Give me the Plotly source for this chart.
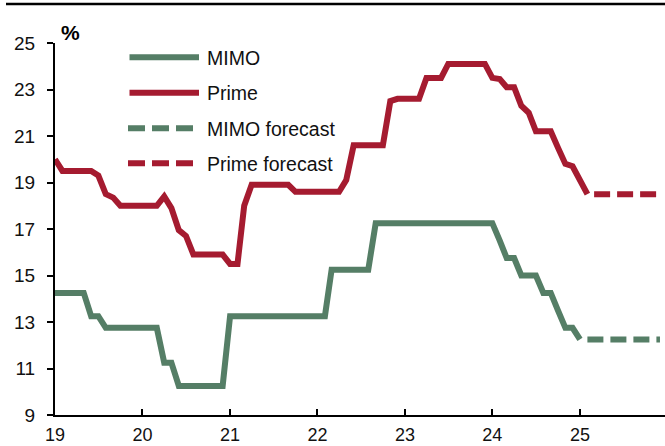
import pandas as pd
import plotly.graph_objects as go

# ---------------- data ----------------
mimo = [14.25, 14.25, 14.25, 14.25, 14.25, 13.25, 13.25, 12.75, 12.75, 12.75, 12.75, 12.75,   # 2019
        12.75, 12.75, 12.75, 11.25, 11.25, 10.25, 10.25, 10.25, 10.25, 10.25, 10.25, 10.25,   # 2020
        13.25, 13.25, 13.25, 13.25, 13.25, 13.25, 13.25, 13.25, 13.25, 13.25, 13.25, 13.25,   # 2021
        13.25, 13.25, 15.25, 15.25, 15.25, 15.25, 15.25, 15.25, 17.25, 17.25, 17.25, 17.25,   # 2022
        17.25, 17.25, 17.25, 17.25, 17.25, 17.25, 17.25, 17.25, 17.25, 17.25, 17.25, 17.25,   # 2023
        17.25, 16.50, 15.75, 15.75, 15.00, 15.00, 15.00, 14.25, 14.25, 13.50, 12.75, 12.75,   # 2024
        12.25]                                                                               # 2025
prime = [20.0, 19.5, 19.5, 19.5, 19.5, 19.5, 19.3, 18.5, 18.35, 18.0, 18.0, 18.0,           # 2019
         18.0, 18.0, 18.0, 18.4, 17.9, 16.95, 16.7, 15.9, 15.9, 15.9, 15.9, 15.9,           # 2020
         15.5, 15.5, 18.0, 18.9, 18.9, 18.9, 18.9, 18.9, 18.9, 18.6, 18.6, 18.6,            # 2021
         18.6, 18.6, 18.6, 18.6, 19.1, 20.6, 20.6, 20.6, 20.6, 20.6, 22.5, 22.6,            # 2022
         22.6, 22.6, 22.6, 23.5, 23.5, 23.5, 24.1, 24.1, 24.1, 24.1, 24.1, 24.1,            # 2023
         23.5, 23.45, 23.1, 23.1, 22.3, 22.0, 21.2, 21.2, 21.2, 20.5, 19.8, 19.7,           # 2024
         19.1, 18.5]                                                                        # 2025
mimo_forecast = [12.25] * 11    # Feb-Dec 2025
prime_forecast = [18.5] * 10    # Mar-Dec 2025

months = pd.date_range("2019-01-01", periods=len(prime), freq="MS")
mimo_dates = months[:len(mimo)]
mimo_fc_dates = pd.date_range("2025-02-01", periods=len(mimo_forecast), freq="MS")
prime_fc_dates = pd.date_range("2025-03-01", periods=len(prime_forecast), freq="MS")

y_ticks = [9, 11, 13, 15, 17, 19, 21, 23, 25]
legend_names = ["MIMO", "Prime", "MIMO forecast", "Prime forecast"]

GREEN = "#557E66"
RED = "#A51B30"
FONT = "Liberation Sans, Arial, sans-serif"
TXT = "#111111"

W, H = 665, 446
L, R, T, B = 55, 0, 43, 31
PW, PH = W - L - R, H - T - B


def fx(px):
    return (px - L) / PW


def fy(py):
    return (H - B - py) / PH


fig = go.Figure()
LW = 6
fig.add_trace(go.Scatter(x=mimo_dates, y=mimo, mode="lines", name=legend_names[0],
                         line=dict(color=GREEN, width=LW)))
fig.add_trace(go.Scatter(x=months, y=prime, mode="lines", name=legend_names[1],
                         line=dict(color=RED, width=LW)))
fig.add_trace(go.Scatter(x=mimo_fc_dates, y=mimo_forecast, mode="lines", name=legend_names[2],
                         line=dict(color=GREEN, width=LW, dash="16px,7px")))
fig.add_trace(go.Scatter(x=prime_fc_dates, y=prime_forecast, mode="lines", name=legend_names[3],
                         line=dict(color=RED, width=LW, dash="16px,7px")))

shapes = []
annotations = []
# manual legend
rows_y = [57.3, 92.7, 128.3, 163.3]
styles = [(GREEN, "solid"), (RED, "solid"), (GREEN, "17px,7px"), (RED, "17px,7px")]
for name, ry, (col, dsh) in zip(legend_names, rows_y, styles):
    x0, x1 = (129.5, 199) if dsh == "solid" else (128, 194)
    shapes.append(dict(type="line", xref="paper", yref="paper",
                       x0=fx(x0), x1=fx(x1), y0=fy(ry), y1=fy(ry),
                       line=dict(color=col, width=6, dash=dsh)))
    annotations.append(dict(text=name, xref="paper", yref="paper", x=fx(205), y=fy(ry + 0.5),
                            xanchor="left", yanchor="middle", showarrow=False,
                            font=dict(family=FONT, size=19.5, color=TXT)))

# top rule
shapes.append(dict(type="line", xref="paper", yref="paper", x0=fx(6), x1=fx(665),
                   y0=fy(4), y1=fy(4), line=dict(color="black", width=2.5)))
# unit label
annotations.append(dict(text="<b>%</b>", xref="paper", yref="paper", x=fx(58.5), y=fy(32.5),
                        xanchor="left", yanchor="middle", showarrow=False,
                        font=dict(family=FONT, size=21, color="black")))

fig.update_layout(
    width=W, height=H,
    margin=dict(l=L, r=R, t=T, b=B, pad=0, autoexpand=False),
    paper_bgcolor="white", plot_bgcolor="white",
    showlegend=False,
    shapes=shapes, annotations=annotations,
    font=dict(family=FONT, size=19, color=TXT),
)
fig.update_xaxes(
    type="date", range=["2019-01-01", "2025-12-22"], automargin=False,
    tick0="2019-01-01", dtick="M12", tickformat="%y",
    showline=True, linecolor="black", linewidth=2,
    ticks="inside", ticklen=6, tickwidth=1.5, tickcolor="black",
    showgrid=False, zeroline=False, ticklabelstandoff=2,
    tickfont=dict(family=FONT, size=18, color=TXT),
)
fig.update_yaxes(
    range=[9, 25], tickvals=y_ticks, ticktext=[str(v) for v in y_ticks], automargin=False,
    showline=True, linecolor="black", linewidth=2,
    ticks="outside", ticklen=6, tickwidth=1.5, tickcolor="black",
    showgrid=False, zeroline=False, ticklabelstandoff=8,
    tickfont=dict(family=FONT, size=19, color=TXT),
)

fig.write_html("out.html")
